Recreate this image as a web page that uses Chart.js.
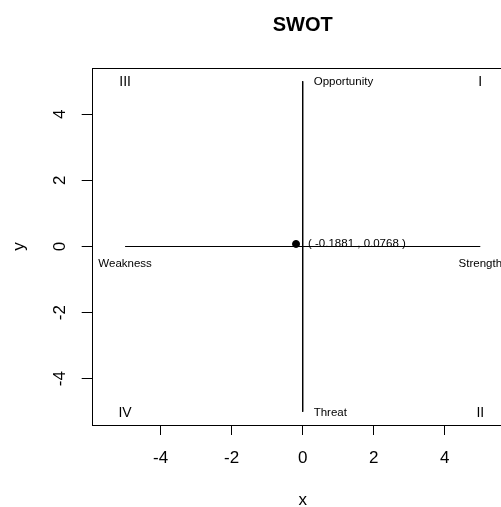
<!DOCTYPE html>
<html>
<head>
<meta charset="utf-8">
<script src="https://cdn.jsdelivr.net/npm/chart.js@4/dist/chart.umd.min.js"></script>
<style>
html, body { margin: 0; padding: 0; overflow: hidden; background: #fff; }
</style>
</head>
<body>
<canvas id="myChart" width="540" height="507"></canvas>
<script>
// SWOT quadrant chart data
const xRange = [-5.94, 5.94];
const yRange = [-5.4, 5.4];
const xTicks = [-4, -2, 0, 2, 4];
const yTicks = [-4, -2, 0, 2, 4];
const hLineX = [-5, 5];
const hLineY = [0, 0];
const vLineX = [0, 0];
const vLineY = [5, -5];
const pointX = [-0.1881];
const pointY = [0.0768];
const quadNames = ['I', 'II', 'III', 'IV'];
const quadX = [5, 5, -5, -5];
const quadY = [5, -5, 5, -5];
const sideNames = ['Opportunity', 'Threat', 'Weakness', 'Strength'];
const sideX = [0, 0, -5, 5];
const sideY = [5, -5, 0, 0];

const FONT = "'Liberation Sans', Arial, sans-serif";

const toPts = (xs, ys) => xs.map((x, i) => ({ x: x, y: ys[i] }));

const rPlot = {
    id: 'rPlot',
    afterDraw(chart) {
        const ctx = chart.ctx;
        const a = chart.chartArea;
        const xs = chart.scales.x;
        const ys = chart.scales.y;
        ctx.save();
        ctx.strokeStyle = '#000';
        ctx.lineWidth = 1;
        ctx.strokeRect(Math.round(a.left) + 0.5, Math.round(a.top) + 0.5,
            Math.round(a.right - a.left), Math.round(a.bottom - a.top));

        ctx.fillStyle = '#000';
        // title
        ctx.font = 'bold 20px ' + FONT;
        ctx.textAlign = 'center';
        ctx.textBaseline = 'middle';
        ctx.fillText('SWOT', (a.left + 513.7) / 2, 25);

        // axis titles
        ctx.font = '17px ' + FONT;
        ctx.fillText('x', (a.left + 513.7) / 2, 500);
        ctx.save();
        ctx.translate(19, (a.top + a.bottom) / 2);
        ctx.rotate(-Math.PI / 2);
        ctx.fillText('y', 0, 0);
        ctx.restore();

        // y tick labels, rotated as in R
        yTicks.forEach(v => {
            ctx.save();
            ctx.translate(60, ys.getPixelForValue(v));
            ctx.rotate(-Math.PI / 2);
            ctx.fillText(String(v), 0, 0);
            ctx.restore();
        });

        // quadrant names
        ctx.font = '14px ' + FONT;
        quadNames.forEach((t, i) => {
            ctx.fillText(t, xs.getPixelForValue(quadX[i]), ys.getPixelForValue(quadY[i]) + 1);
        });

        // side labels
        ctx.font = '11.5px ' + FONT;
        sideNames.forEach((t, i) => {
            const px = xs.getPixelForValue(sideX[i]);
            const py = ys.getPixelForValue(sideY[i]);
            if (sideX[i] === 0) {
                ctx.textAlign = 'left';
                ctx.fillText(t, px + 11, py + 1);
            } else {
                ctx.textAlign = 'center';
                ctx.fillText(t, px, py + 17);
            }
        });

        // point coordinates
        ctx.textAlign = 'left';
        pointX.forEach((x, i) => {
            ctx.fillText('( ' + x + ' , ' + pointY[i] + ' )',
                xs.getPixelForValue(x) + 12, ys.getPixelForValue(pointY[i]));
        });
        ctx.restore();
    }
};

const ctx = document.getElementById('myChart').getContext('2d');
const myChart = new Chart(ctx, {
    type: 'scatter',
    data: {
        datasets: [{
            data: toPts(hLineX, hLineY),
            showLine: true,
            borderColor: '#000',
            borderWidth: 1,
            pointRadius: 0
        }, {
            data: toPts(vLineX, vLineY),
            showLine: true,
            borderColor: '#000',
            borderWidth: 1,
            pointRadius: 0
        }, {
            data: toPts(pointX, pointY),
            pointRadius: 3.5,
            backgroundColor: '#000',
            borderColor: '#000'
        }]
    },
    options: {
        responsive: false,
        animation: false,
        devicePixelRatio: 1,
        layout: { padding: { top: 68, right: 26.3, bottom: 0, left: 0 } },
        plugins: {
            legend: { display: false },
            tooltip: { enabled: false },
            title: { display: false }
        },
        scales: {
            x: {
                type: 'linear',
                min: xRange[0],
                max: xRange[1],
                afterBuildTicks: s => { s.ticks = xTicks.map(v => ({ value: v })); },
                afterFit: s => { s.height = 82; },
                grid: { drawOnChartArea: false, drawTicks: true, tickLength: 10, color: '#000' },
                border: { display: false },
                ticks: { color: '#000', font: { family: FONT, size: 17 }, padding: 13, maxRotation: 0 }
            },
            y: {
                type: 'linear',
                min: yRange[0],
                max: yRange[1],
                afterBuildTicks: s => { s.ticks = yTicks.map(v => ({ value: v })); },
                afterFit: s => { s.width = 91.7; },
                grid: { drawOnChartArea: false, drawTicks: true, tickLength: 10, color: '#000' },
                border: { display: false },
                ticks: { display: false }
            }
        }
    },
    plugins: [rPlot]
});
</script>
</body>
</html>
